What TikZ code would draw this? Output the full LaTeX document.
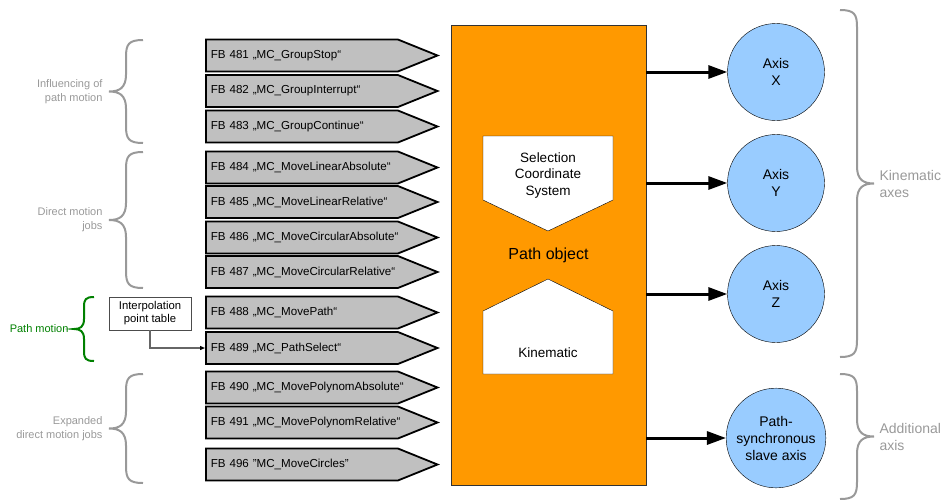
\documentclass[tikz,border=0pt]{standalone}
\usepackage{fontspec}
\setmainfont{Liberation Sans}
\usetikzlibrary{shapes.symbols,arrows.meta,calc}
\definecolor{fbgray}{RGB}{192,192,192}
\definecolor{pathorange}{RGB}{255,153,0}
\definecolor{axisblue}{RGB}{153,204,255}
\definecolor{bracegray}{RGB}{153,153,153}
\definecolor{pathgreen}{RGB}{0,128,0}

% curly brace: style, x of stem, top, bottom, side (1 = tip left, -1 = tip right), size
\newcommand{\curlybr}[6]{%
  \pgfmathsetmacro\bmid{(#3+#4)/2}
  \draw[#1] ({#2+#6*(#5)},#3) .. controls ({#2+0.15*#6*(#5)},#3) and (#2,{#3+0.25*#6}) .. (#2,{#3+#6})
    -- (#2,{\bmid-#6}) .. controls (#2,{\bmid-0.2*#6}) and ({#2-0.4*#6*(#5)},\bmid) .. ({#2-#6*(#5)},\bmid)
    .. controls ({#2-0.4*#6*(#5)},\bmid) and (#2,{\bmid+0.2*#6}) .. (#2,{\bmid+#6})
    -- (#2,{#4-#6}) .. controls (#2,{#4-0.25*#6}) and ({#2+0.15*#6*(#5)},#4) .. ({#2+#6*(#5)},#4);
}

\begin{document}
\begin{tikzpicture}[x=1pt,y=-1pt,
    fb/.style={signal,signal to=east,signal pointer angle=44,draw,line width=1.8pt,fill=fbgray,
      minimum height=32pt,minimum width=230pt,text width=182pt,inner xsep=5pt,align=left,anchor=west,
      font=\fontsize{11.6}{13}\selectfont,
      execute at begin node=\hbox\bgroup,execute at end node=\egroup},
    axis/.style={circle,draw,thin,fill=axisblue,minimum size=97pt,align=center,
      font=\fontsize{14}{17}\selectfont},
    csbox/.style={draw,thin,fill=white},
    cstext/.style={align=center,font=\fontsize{13.5}{16.5}\selectfont},
    grp/.style={bracegray,align=right,anchor=east,font=\fontsize{11}{14}\selectfont},
    kin/.style={bracegray,align=left,anchor=west,font=\fontsize{14}{17}\selectfont},
    brc/.style={bracegray,line width=2pt},
    axarr/.style={line width=3pt,-{Triangle[length=19pt,width=13pt]}},
    iparr/.style={black!60,line width=1.2pt,-{Triangle[length=5pt,width=4pt,black]}}]
  \useasboundingbox (0,0) rectangle (944,499);

  % function blocks
  \node (FB481) at (205,55.5)  [fb] {FB 481 „MC\_GroupStop“};
  \node (FB482) at (205,91)    [fb] {FB 482 „MC\_GroupInterrupt“};
  \node (FB483) at (205,126.5) [fb] {FB 483 „MC\_GroupContinue“};
  \node (FB484) at (205,167.5) [fb] {FB 484 „MC\_MoveLinearAbsolute“};
  \node (FB485) at (205,202)   [fb] {FB 485 „MC\_MoveLinearRelative“};
  \node (FB486) at (205,237.5) [fb] {FB 486 „MC\_MoveCircularAbsolute“};
  \node (FB487) at (205,272)   [fb] {FB 487 „MC\_MoveCircularRelative“};
  \node (FB488) at (205,312.5) [fb] {FB 488 „MC\_MovePath“};
  \node (FB489) at (205,348)   [fb] {FB 489 „MC\_PathSelect“};
  \node (FB490) at (205,387.5) [fb] {FB 490 „MC\_MovePolynomAbsolute“};
  \node (FB491) at (205,422.5) [fb] {FB 491 „MC\_MovePolynomRelative“};
  \node (FB496) at (205,464.5) [fb] {FB 496 "MC\_MoveCircles"};

  % interpolation point table
  \node (IPT) at (150,313.5) [draw=black!70,line width=0.8pt,minimum width=82pt,minimum height=33pt,
    inner sep=1pt,align=center,font=\fontsize{11.3}{13}\selectfont] {Interpolation\\point table};
  \draw[iparr] (IPT.south) |- (FB489.west);

  % path object
  \node (P) at (548.5,255) [rectangle,fill=pathorange,draw=black!80,minimum width=195pt,minimum height=460pt,
    font=\fontsize{16}{19}\selectfont] {Path object};
  \filldraw[csbox] (483,136) -- (613,136) -- (613,200) -- (548,231) -- (483,200) -- cycle;
  \filldraw[csbox] (483,374) -- (483,311) -- (548,279) -- (613,311) -- (613,374) -- cycle;
  \node (S) at (548,175.5) [cstext] {Selection\\Coordinate\\System};
  \node (K) at (548,353) [cstext] {Kinematic};

  % axes
  \node (AX) at (776,72)  [axis] {Axis\\X};
  \node (AY) at (776,183) [axis] {Axis\\Y};
  \node (AZ) at (776,294) [axis] {Axis\\Z};
  \node (AS) at (776,438) [axis] {Path-\\synchronous\\slave axis};
  \draw[axarr] (P.east |- AX) -- (AX);
  \draw[axarr] (P.east |- AY) -- (AY);
  \draw[axarr] (P.east |- AZ) -- (AZ);
  \draw[axarr] (P.east |- AS) -- (AS);

  % braces and group labels
  \curlybr{brc}{126}{40}{143}{1}{17}
  \curlybr{brc}{126}{152}{288}{1}{17}
  \curlybr{brc,pathgreen}{84}{297}{361}{1}{10}
  \curlybr{brc}{126}{374}{483}{1}{17}
  \curlybr{brc}{857}{10}{357}{-1}{17}
  \curlybr{brc}{857}{374}{499}{-1}{17}
  \node (G1) at (106,91.5) [grp] {Influencing of\\path motion};
  \node (G2) at (106,220)  [grp] {Direct motion\\jobs};
  \node (G3) at (72,329)   [grp,pathgreen] {Path motion};
  \node (G4) at (106,428.5) [grp] {Expanded\\direct motion jobs};
  \node (G5) at (876,183.5) [kin] {Kinematic\\axes};
  \node (G6) at (876,436.5) [kin] {Additional\\axis};
\end{tikzpicture}
\end{document}
